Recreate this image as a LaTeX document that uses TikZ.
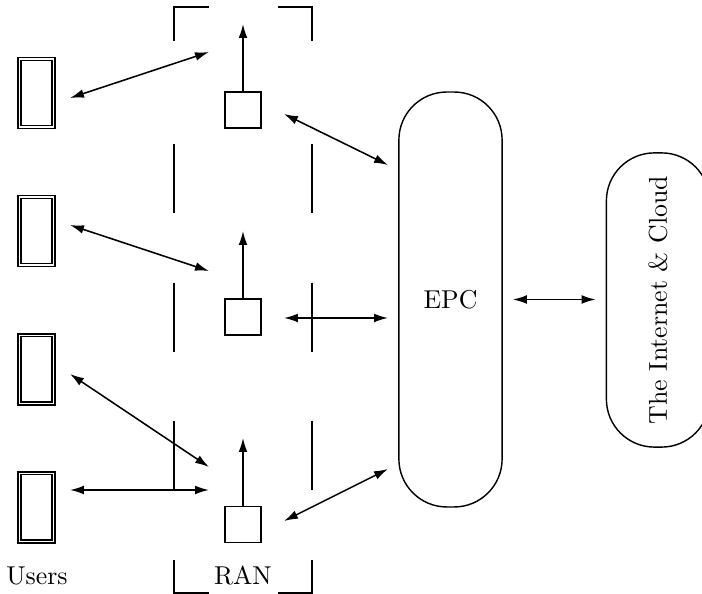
\documentclass[tikz,border=0pt]{standalone}
\usepackage{tikz}
\usetikzlibrary{arrows.meta,positioning,calc}

\begin{document}
\begin{tikzpicture}[
  x=0.3875pt, y=-0.3875pt,
  phone/.style={draw, double, line width=0.55pt, double distance=0.6pt, minimum width=13.2pt, minimum height=26.5pt, inner sep=0pt},
  bs/.style={draw, line width=0.6pt, minimum size=14pt, inner sep=0pt},
  core/.style={draw, line width=0.55pt, rounded corners=18.6pt, minimum width=40pt, inner sep=0pt},
  ranbox/.style={line width=0.6pt},
  ant/.style={-{Latex[length=5.4pt,width=3.4pt]}, line width=0.6pt},
  link/.style={{Latex[length=5.4pt,width=3.4pt]}-{Latex[length=5.4pt,width=3.4pt]}, line width=0.6pt},
  lab/.style={anchor=base, inner sep=0pt}
]
\useasboundingbox (0,0) rectangle (702,594);
\clip (0,0) rectangle (702,594);

% users
\foreach \i/\y in {1/93, 2/231, 3/369.5, 4/507.5}
  \node[phone] (phone\i) at (36.5,\y) {};
\node[lab] (users) at (37,585) {Users};

% RAN with its base stations
\foreach \i/\y/\t in {1/110/24, 2/317/231, 3/524.5/438} {
  \node[bs] (bs\i) at (243,\y) {};
  \coordinate (ant\i) at (243,\t);
  \draw[ant] (bs\i.north) -- (ant\i);
}
\draw[ranbox] (209,7) -- (174,7) -- (174,41);
\draw[ranbox] (278,7) -- (312,7) -- (312,41);
\draw[ranbox] (174,560) -- (174,593) -- (209,593);
\draw[ranbox] (312,560) -- (312,593) -- (278,593);
\foreach \x in {174,312}
  \foreach \a/\b in {144/213, 283/352, 421/490}
    \draw[ranbox] (\x,\a) -- (\x,\b);
\node[lab] (ran) at (243,585) {RAN};

% core and internet
\node[core, minimum height=160.8pt] (epc) at (450.5,299.5) {EPC};
\node[core, minimum height=114pt] (net) at (658,300) {\rotatebox{90}{The Internet \& Cloud}};

% radio links
\coordinate (u1) at (70,98);   \coordinate (r1) at (209,52);
\coordinate (u2) at (70,225);  \coordinate (r2) at (209,271);
\coordinate (u3) at (70,374);  \coordinate (r3) at (209,467);
\coordinate (u4) at (70,490);  \coordinate (r4) at (209,490);
\foreach \i in {1,...,4}
  \draw[link] (u\i) -- (r\i);

% backhaul
\coordinate (b1) at (284,114); \coordinate (c1) at (388,165);
\coordinate (b2) at (284,318); \coordinate (c2) at (388,318);
\coordinate (b3) at (284,521); \coordinate (c3) at (388,469);
\foreach \i in {1,2,3}
  \draw[link] (b\i) -- (c\i);

\draw[link, shorten <=3.9pt, shorten >=3.9pt] (epc.east) -- (epc.east -| net.west);
\end{tikzpicture}
\end{document}
